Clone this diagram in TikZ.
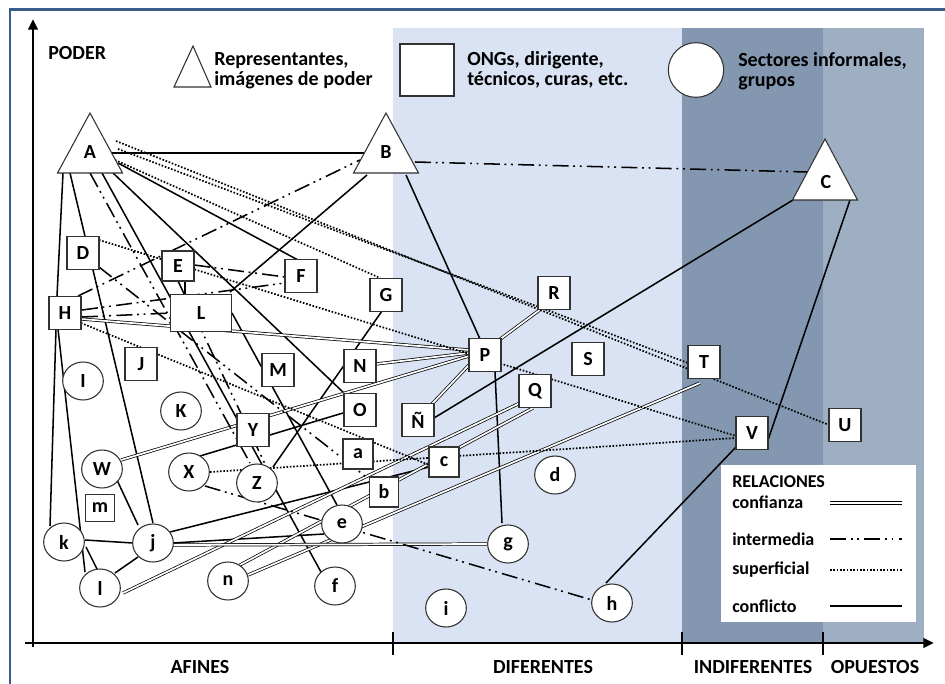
\documentclass[tikz,border=0pt]{standalone}
\usepackage{fontspec}
\setmainfont{Carlito}
\usetikzlibrary{calc,arrows.meta,shapes.geometric}
\pgfdeclarelayer{back}
\pgfdeclarelayer{bg}
\pgfsetlayers{back,bg,main}
\definecolor{regA}{RGB}{218,227,243}
\definecolor{regB}{RGB}{132,151,176}
\definecolor{regC}{RGB}{158,174,195}
\definecolor{frame}{RGB}{56,93,138}
\definecolor{nodeline}{RGB}{50,50,50}
\tikzset{
  box/.style={draw=nodeline, fill=white, line width=0.8pt, minimum width=24pt, minimum height=24.5pt, inner sep=0pt, font=\fontsize{15}{15}\selectfont\bfseries},
  circ/.style={ellipse, draw=nodeline, fill=white, line width=0.8pt, minimum width=30.5pt, minimum height=28.5pt, inner sep=0pt, font=\fontsize{15}{15}\selectfont\bfseries},
  trishape/.style={draw=nodeline, fill=white, line width=0.8pt, line join=miter},
  lab/.style={inner sep=0pt, font=\fontsize{15}{15}\selectfont\bfseries},
  txt/.style={inner sep=0pt, align=left, font=\fontsize{15}{15}\selectfont\bfseries},
  legtxt/.style={inner sep=0pt, anchor=west, font=\fontsize{13.5}{14}\selectfont\bfseries},
  relconf/.style={double=white, double distance=1.3pt, line width=0.55pt, draw=black},
  relint/.style={line width=1.15pt, dash pattern=on 12pt off 3.5pt on 1.4pt off 3.5pt on 1.4pt off 4pt},
  relsup/.style={line width=1.3pt, dash pattern=on 1.2pt off 1.3pt},
  relcon/.style={line width=1.15pt},
  axis/.style={line width=2pt},
}
\begin{document}
\begin{tikzpicture}[x=0.75pt,y=-0.75pt]
\useasboundingbox (0,0) rectangle (945,684);
\begin{pgfonlayer}{back}
  \fill[white] (0,0) rectangle (945,684);
  \fill[regA] (393,28) rectangle (682,643);
  \fill[regB] (682,28) rectangle (823,643);
  \fill[regC] (823,28) rectangle (924,643);
  \draw[frame, line width=1.6pt] (10,700) -- (10,9.5) -- (960,9.5);
\end{pgfonlayer}

% legend at the top
\node[txt, anchor=west] (poder) at (48,53) {PODER};
\draw[trishape] (193,46) -- (174,87) -- (211,87) -- cycle;
\node[txt, anchor=west] (ltri) at (214,71) {Representantes,\\imágenes de poder};
\node[box, minimum width=40.5pt, minimum height=39pt] (lsq) at (427,70) {};
\node[txt, anchor=west] (lsqt) at (467,70) {ONGs, dirigente,\\técnicos, curas, etc.};
\node[circ, minimum width=41.5pt, minimum height=41pt] (lci) at (696,70) {};
\node[txt, anchor=west] (lcit) at (738,71) {Sectores informales,\\grupos};

% triangles
\draw[trishape] (90,113) -- (57.5,173) -- (122.5,173) -- cycle;
\node[lab] (A) at (90,152) {A};
\draw[trishape] (386,113) -- (353.5,173) -- (418.5,173) -- cycle;
\node[lab] (B) at (386,152) {B};
\draw[trishape] (825,139) -- (792.5,200) -- (857.5,200) -- cycle;
\node[lab] (C) at (826,182) {C};

% boxes
\node[box] (D) at (83,253) {D};
\node[box, minimum height=22.5pt] (E) at (178,266) {E};
\node[box] (F) at (301,276) {F};
\node[box] (G) at (386,295) {G};
\node[box] (H) at (65,313) {H};
\node[box, minimum width=45.75pt, minimum height=27.75pt] (L) at (201,313) {L};
\node[box] (J) at (141,364) {J};
\node[box] (M) at (278,370) {M};
\node[box] (N) at (360,366) {N};
\node[box] (O) at (360,410) {O};
\node[box] (P) at (485,355) {P};
\node[box] (R) at (554,293) {R};
\node[box] (S) at (588,359) {S};
\node[box] (Q) at (535,391) {Q};
\node[box] (Nt) at (418,420) {Ñ};
\node[box] (T) at (704,362) {T};
\node[box] (V) at (752,433) {V};
\node[box] (U) at (845,425) {U};
\node[box] (Y) at (253,430) {Y};
\node[box, minimum width=22.5pt, minimum height=22.5pt] (a) at (358,454) {a};
\node[box, minimum width=22pt, minimum height=22.5pt] (b) at (384,492) {b};
\node[box, minimum width=22.5pt, minimum height=22.5pt] (c) at (444,462) {c};
\node[box, minimum width=22pt, minimum height=20pt] (m) at (100,508) {m};

% circles
\node[circ] (I) at (83,381) {I};
\node[circ] (K) at (181,411) {K};
\node[circ] (W) at (102,469) {W};
\node[circ] (X) at (189,472) {X};
\node[circ] (Z) at (257,483) {Z};
\node[circ] (k) at (64,542) {k};
\node[circ] (j) at (153,543) {j};
\node[circ] (l) at (100,588) {l};
\node[circ] (n) at (228,581) {n};
\node[circ] (e) at (342,524) {e};
\node[circ] (f) at (335,586) {f};
\node[circ] (g) at (508,544) {g};
\node[circ] (d) at (555,475) {d};
\node[circ] (i) at (446,608) {i};
\node[circ] (h) at (612,603) {h};

% connectors
\begin{pgfonlayer}{bg}
  % conflicto
  \draw[relcon] ($(A)+(21,1)$) -- ($(B)+(-21,1)$);
  \draw[relcon] ($(A)+(-27,21)$) -- ($(H)+(-8,-17)$);
  \draw[relcon] ($(A)+(-20,21)$) -- ($(j)+(0,-20)$);
  \draw[relcon] ($(A)+(12,21)$) -- ($(f)+(-14,-14)$);
  \draw[relcon] ($(A)+(23,21)$) -- ($(O)+(-15,-16)$);
  \draw[relcon] ($(A)+(28,11)$) -- ($(F)+(-3,-16)$);
  \draw[relcon] ($(H)+(-9,16)$) -- ($(k)+(-14,-16)$);
  \draw[relcon] ($(H)+(-7,16)$) -- ($(l)+(-15,-16)$);
  \draw[relcon] ($(k)+(21,-2)$) -- ($(j)+(-20,0)$);
  \draw[relcon] ($(k)+(22,5)$) -- ($(l)+(-3,-19)$);
  \draw[relcon] ($(l)+(15,-15)$) -- ($(j)+(-15,14)$);
  \draw[relcon] ($(W)+(15,11)$) -- ($(j)+(-15,-18)$);
  \draw[relcon] ($(B)+(-19,23)$) -- ($(L)+(29,-21)$);
  \draw[relcon] ($(B)+(20,23)$) -- ($(P)+(-5,-16)$);
  \draw[relcon] ($(C)+(-33,18)$) -- ($(Nt)+(16,-2)$);
  \draw[relcon] ($(C)+(24,18)$) -- ($(V)+(16,7)$);
  \draw[relcon] ($(V)+(-16,14)$) -- ($(h)+(-6,-20)$);
  \draw[relcon] ($(P)+(10,17)$) -- ($(g)+(-6,-21)$);
  \draw[relcon] ($(G)+(-4,16)$) -- ($(Z)+(16,-16)$);
  \draw[relcon] ($(X)+(11,-16)$) -- ($(O)+(-17,3)$);
  \draw[relcon] ($(L)+(31,0)$) -- ($(e)+(-5,-19)$);
  \draw[relcon] ($(j)+(17,-11)$) -- ($(c)+(-15,5)$);
  \draw[relcon] ($(j)+(20,0)$) -- ($(e)+(-18,10)$);
  \draw[relcon] ($(E)+(7,15)$) -- ($(L)+(-16,-18)$);
  % confianza
  \draw[relconf] ($(H)+(16,6)$) -- ($(P)+(-16,-5)$);
  \draw[relconf] ($(N)+(16,-2)$) -- ($(P)+(-16,-2)$);
  \draw[relconf] ($(W)+(19,-9)$) -- ($(P)+(-16,1)$);
  \draw[relconf] ($(Nt)+(14,-16)$) -- ($(P)+(-16,10)$);
  \draw[relconf] ($(R)+(-13,16)$) -- ($(P)+(14,-15)$);
  \draw[relconf] ($(l)+(23,5)$) -- ($(Q)+(-15,12)$);
  \draw[relconf] ($(n)+(12,-16)$) -- ($(Q)+(-2,17)$);
  \draw[relconf] ($(n)+(20,-6)$) -- ($(T)+(-4,21)$);
  \draw[relconf] ($(j)+(20,2)$) -- ($(g)+(-21,0)$);
  % superficial
  \draw[relsup] ($(A)+(25,8)$) -- ($(G)+(-6,-17)$);
  \draw[relsup] ($(A)+(28,-3)$) -- ($(T)+(-16,1)$);
  \draw[relsup] ($(A)+(26,-11)$) -- ($(U)+(-16,0)$);
  \draw[relsup] ($(D)+(16,-13)$) -- ($(V)+(-16,3)$);
  \draw[relsup] ($(H)+(16,10)$) -- ($(c)+(-15,3)$);
  \draw[relsup] ($(X)+(21,0)$) -- ($(V)+(-16,5)$);
  % intermedia
  \draw[relint] ($(B)+(29,10)$) -- ($(C)+(-19,-10)$);
  \draw[relint] ($(H)+(13,-17)$) -- ($(B)+(-26,8)$);
  \draw[relint] ($(H)+(17,-3)$) -- ($(F)+(-16,7)$);
  \draw[relint] ($(H)+(17,4)$) -- ($(L)+(-30,0)$);
  \draw[relint] ($(E)+(16,-1)$) -- ($(F)+(-16,1)$);
  \draw[relint] ($(D)+(16,14)$) -- ($(b)+(-14,-12)$);
  \draw[relint] ($(A)+(0,21)$) -- ($(Z)+(-7,-20)$);
  \draw[relint] ($(E)+(0,15)$) -- ($(Z)+(8,-19)$);
  \draw[relint] ($(X)+(16,14)$) -- ($(h)+(-20,-3)$);
\end{pgfonlayer}

% axes
\draw[axis, -{Triangle[length=8pt,width=7pt]}] (33,647) -- (33,19);
\draw[axis, -{Triangle[length=8pt,width=7pt]}] (25,643) -- (934,643);
\foreach \tx/\nm in {393/t1,682/t2,823/t3}{
  \coordinate (\nm a) at (\tx,632); \coordinate (\nm b) at (\tx,655);
  \draw[axis] (\nm a) -- (\nm b);
}
\node[lab] (af) at (200,667) {AFINES};
\node[lab] (di) at (543,667) {DIFERENTES};
\node[lab] (in) at (753,667) {INDIFERENTES};
\node[lab] (op) at (875,667) {OPUESTOS};

% relation legend
\node[fill=white, minimum width=146.25pt, minimum height=117.75pt, inner sep=0pt] (legbox) at (818.5,543.5) {};
\node[legtxt] (lr) at (732,482) {RELACIONES};
\node[legtxt] (l1) at (732,502) {confianza};
\node[legtxt] (l2) at (732,539) {intermedia};
\node[legtxt] (l3) at (732,570) {superficial};
\node[legtxt] (l4) at (732,606) {conflicto};
\coordinate (c1a) at (830,503); \coordinate (c1b) at (902,503);
\coordinate (c2a) at (830,539); \coordinate (c2b) at (902,539);
\coordinate (c3a) at (830,570); \coordinate (c3b) at (902,570);
\coordinate (c4a) at (830,606); \coordinate (c4b) at (902,606);
\draw[relconf] (c1a) -- (c1b);
\draw[relint] (c2a) -- (c2b);
\draw[relsup] (c3a) -- (c3b);
\draw[relcon] (c4a) -- (c4b);
\end{tikzpicture}
\end{document}
